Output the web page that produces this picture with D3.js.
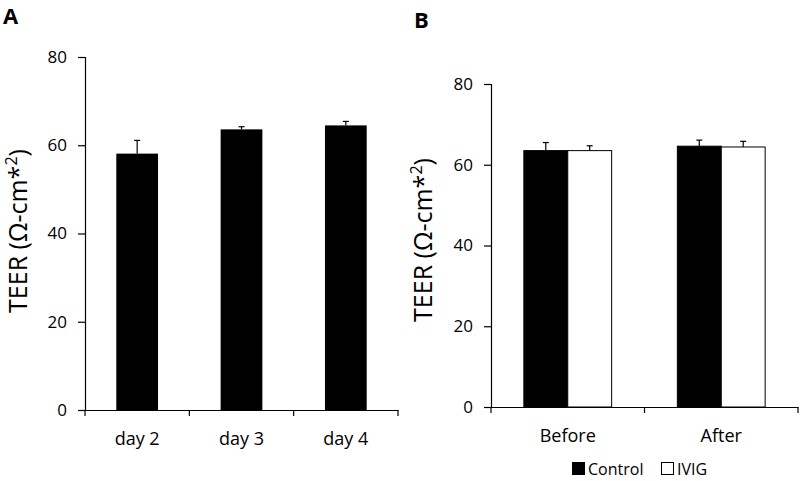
<!DOCTYPE html>
<html>
<head>
<meta charset="utf-8">
<script src="https://cdn.jsdelivr.net/npm/d3@7"></script>
<style>
  body { margin: 0; background: #fff; }
  svg { font-family: "Open Sans", sans-serif; }
</style>
</head>
<body>
<div class="chart-area"></div>
<script>
// panel A
const daysA = ["day 2", "day 3", "day 4"];
const teerA = [58.1, 63.6, 64.5];
const errA = [3.0, 0.6, 0.9];

// panel B
const phasesB = ["Before", "After"];
const groupsB = ["Control", "IVIG"];
const controlB = [63.5, 64.6];
const ivigB = [63.5, 64.4];
const controlErrB = [2.0, 1.5];
const ivigErrB = [1.2, 1.4];

const yTicks = [0, 20, 40, 60, 80];

const width = 800, height = 481;
const svg = d3.select(".chart-area").append("svg")
    .attr("width", width).attr("height", height);

function yTitle(x, y) {
    const t = svg.append("text")
        .attr("transform", `translate(${x},${y}) rotate(-90)`)
        .attr("text-anchor", "middle")
        .attr("font-size", 25)
        .attr("fill", "#000");
    t.append("tspan").text("TEER (Ω-cm*");
    t.append("tspan").attr("font-size", 16).attr("dy", -10).text("2");
    t.append("tspan").attr("dy", 10).text(")");
}

function axes(g, x, y, bottom) {
    const ya = g.append("g")
        .attr("transform", `translate(${x.range()[0]},0)`)
        .call(d3.axisLeft(y).tickValues(yTicks).tickSize(7).tickPadding(11));
    const xa = g.append("g")
        .attr("transform", `translate(0,${bottom})`)
        .call(d3.axisBottom(x).tickSize(0).tickPadding(22));
    // category boundary ticks, Excel style
    const edges = x.domain().map(d => x(d)).concat([x.range()[1]]);
    xa.selectAll(".edge").data(edges).join("line")
        .attr("x1", d => d).attr("x2", d => d)
        .attr("y1", 0).attr("y2", 6)
        .attr("stroke", "#000");
    [ya, xa].forEach(a => {
        a.selectAll("path, line").attr("stroke", "#000").attr("stroke-width", 1.2);
        a.selectAll("text").attr("font-family", "Open Sans").attr("fill", "#000");
    });
    ya.selectAll("text").attr("font-size", 17);
    xa.selectAll("text").attr("font-size", 18);
}

function errBar(g, cx, yTop, yErr) {
    g.append("line").attr("x1", cx).attr("x2", cx)
        .attr("y1", yTop).attr("y2", yErr)
        .attr("stroke", "#000").attr("stroke-width", 1.2);
    g.append("line").attr("x1", cx - 3).attr("x2", cx + 3)
        .attr("y1", yErr).attr("y2", yErr)
        .attr("stroke", "#000").attr("stroke-width", 1.2);
}

// ---------------- panel A
const xA = d3.scaleBand().domain(daysA).range([85, 398]).padding(0);
const yA = d3.scaleLinear().domain([0, 80]).range([410, 57]);
const gA = svg.append("g");
const bwA = xA.bandwidth() * 0.4;

daysA.forEach((d, i) => {
    const cx = xA(d) + xA.bandwidth() / 2;
    errBar(gA, cx, yA(teerA[i]), yA(teerA[i] + errA[i]));
    gA.append("rect")
        .attr("x", cx - bwA / 2).attr("width", bwA)
        .attr("y", yA(teerA[i])).attr("height", yA(0) - yA(teerA[i]))
        .attr("fill", "#000");
});
axes(gA, xA, yA, 410);
yTitle(27, 231);
svg.append("text").attr("x", 3).attr("y", 24)
    .attr("font-size", 22).attr("font-weight", "bold").text("A");

// ---------------- panel B
const xB = d3.scaleBand().domain(phasesB).range([491, 798]).padding(0);
const yB = d3.scaleLinear().domain([0, 80]).range([407, 84]);
const gB = svg.append("g");
const bwB = xB.bandwidth() * 0.286;
const seriesB = [
    { vals: controlB, errs: controlErrB, fill: "#000" },
    { vals: ivigB, errs: ivigErrB, fill: "#fff" }
];

phasesB.forEach((p, i) => {
    const cx = xB(p) + xB.bandwidth() / 2;
    seriesB.forEach((s, j) => {
        const x0 = cx + (j - 1) * bwB;
        errBar(gB, x0 + bwB / 2, yB(s.vals[i]), yB(s.vals[i] + s.errs[i]));
        gB.append("rect")
            .attr("x", x0).attr("width", bwB)
            .attr("y", yB(s.vals[i])).attr("height", yB(0) - yB(s.vals[i]))
            .attr("fill", s.fill).attr("stroke", "#000").attr("stroke-width", 1);
    });
});
axes(gB, xB, yB, 407);
yTitle(432, 240);
svg.append("text").attr("x", 414).attr("y", 28)
    .attr("font-size", 22).attr("font-weight", "bold").text("B");

// legend
const leg = svg.append("g").attr("transform", "translate(572,462)");
groupsB.forEach((name, i) => {
    const lx = i * 89;
    leg.append("rect").attr("x", lx + 0.5).attr("y", 0.5).attr("width", 12).attr("height", 12)
        .attr("fill", seriesB[i].fill).attr("stroke", "#000");
    leg.append("text").attr("x", lx + 16).attr("y", 12.5)
        .attr("font-size", 16).attr("fill", "#000").text(name);
});
</script>
</body>
</html>
